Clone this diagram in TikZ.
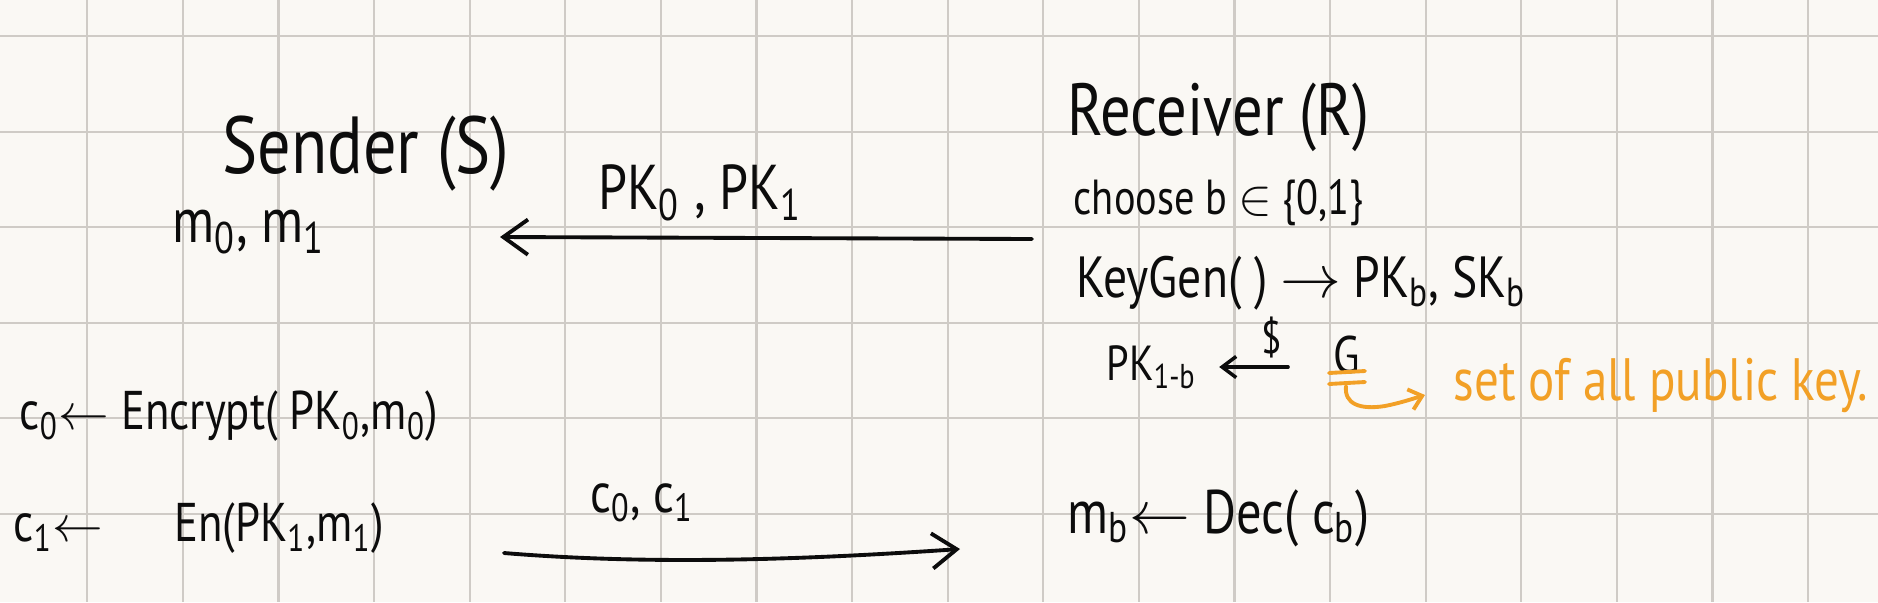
\documentclass[tikz,border=0pt]{standalone}
\usepackage{fontspec}
\setmainfont{PT Sans}[FakeStretch=0.82]
\usetikzlibrary{arrows.meta}
\definecolor{paper}{RGB}{250,248,244}
\definecolor{gridc}{RGB}{207,203,198}
\definecolor{ink}{RGB}{12,12,12}
\definecolor{hl}{RGB}{242,160,38}
\tikzset{
  txt/.style={inner sep=0pt, text=ink},
  htxt/.style={inner sep=0pt, text=hl},
  gridline/.style={draw=gridc, line width=0.6pt},
  msg/.style={draw=ink, line width=1.1pt, line cap=round,
    -{Straight Barb[length=7pt,width=10pt,line width=1.1pt]}},
  smallarrow/.style={draw=ink, line width=1pt, line cap=round,
    -{Straight Barb[length=4pt,width=6pt,line width=1pt]}},
  hook/.style={draw=hl, line width=1.1pt, line cap=round,
    -{Straight Barb[length=3.5pt,width=6pt,line width=1.1pt]}},
  uline/.style={draw=hl, line width=1.1pt, line cap=round},
}
\newcommand{\fs}[1]{\fontsize{#1pt}{#1pt}\selectfont}
\begin{document}
\begin{tikzpicture}[x=0.01cm, y=-0.01cm]
\fill[paper] (0,0) rectangle (1878,602);
\useasboundingbox (0,0) rectangle (1878,602);
% grid
\foreach \i in {0,...,18} \draw[gridline] ({87.3+95.6*\i},0) -- ({87.3+95.6*\i},602);
\foreach \j in {0,...,5} \draw[gridline] (0,{36+95.6*\j}) -- (1878,{36+95.6*\j});

% sender side
\node[txt, font=\fs{23}] (sender) at (366,154) {Sender (S)};
\node[txt, font=\fs{18}] (msgs) at (249,232) {m\textsubscript{0}, m\textsubscript{1}};
\node[txt, font=\fs{15.5}, anchor=west] (enc0) at (19,416)
  {c\textsubscript{0}$\leftarrow$ Encrypt( PK\textsubscript{0},m\textsubscript{0})};
\node[txt, font=\fs{15.5}, anchor=west] (enc1) at (13,528)
  {c\textsubscript{1}$\leftarrow$\hspace{1.3em}En(PK\textsubscript{1},m\textsubscript{1})};

% receiver side
\node[txt, font=\fs{21}, anchor=west] (receiver) at (1067,117) {Receiver (R)};
\node[txt, font=\fs{14}, anchor=west] (choose) at (1073,203) {choose b $\in$ \{0,1\}};
\node[txt, font=\fs{16.5}, anchor=west] (keygen) at (1076,283)
  {KeyGen( ) $\rightarrow$ PK\textsubscript{b}, SK\textsubscript{b}};
\node[txt, font=\fs{14}, anchor=west] (pkb) at (1106,367) {PK\textsubscript{1-b}};
\node[txt, font=\fs{15}] (G) at (1347,355) {G};
\node[txt, font=\fs{17.5}, anchor=west] (dec) at (1067,518)
  {m\textsubscript{b}$\leftarrow$ Dec( c\textsubscript{b})};

% sampling arrow
\draw[smallarrow, shorten >=22*0.01cm, shorten <=45*0.01cm] (G.west |- pkb) -- node[txt, font=\fs{13}, above=2pt, pos=0.45] (dollar) {\$} (pkb.east);

% orange annotation
\draw[uline] (1329,373) -- (1365,371);
\draw[uline] (1329,384) -- (1365,382);
\coordinate (hookstart) at (1346,386);
\node[htxt, font=\fs{17}, anchor=west] (note) at (1453,385) {set of all public key.};
\draw[hook] (hookstart) .. controls (1344,404) and (1360,410) .. (1385,406)
  .. controls (1400,403) and (1412,399) .. (1425,395);

% messages
\coordinate (r1) at (1032,239);
\coordinate (s1) at (500,237);
\draw[msg] (r1) -- (s1);
\node[txt, font=\fs{18}] (pklabel) at (700,193) {PK\textsubscript{0} , PK\textsubscript{1}};

\coordinate (s2) at (504,553);
\coordinate (r2) at (960,549);
\draw[msg] (s2) .. controls (650,565) and (800,560) .. (r2);
\node[txt, font=\fs{16}] (clabel) at (642,503) {c\textsubscript{0}, c\textsubscript{1}};
\end{tikzpicture}
\end{document}
